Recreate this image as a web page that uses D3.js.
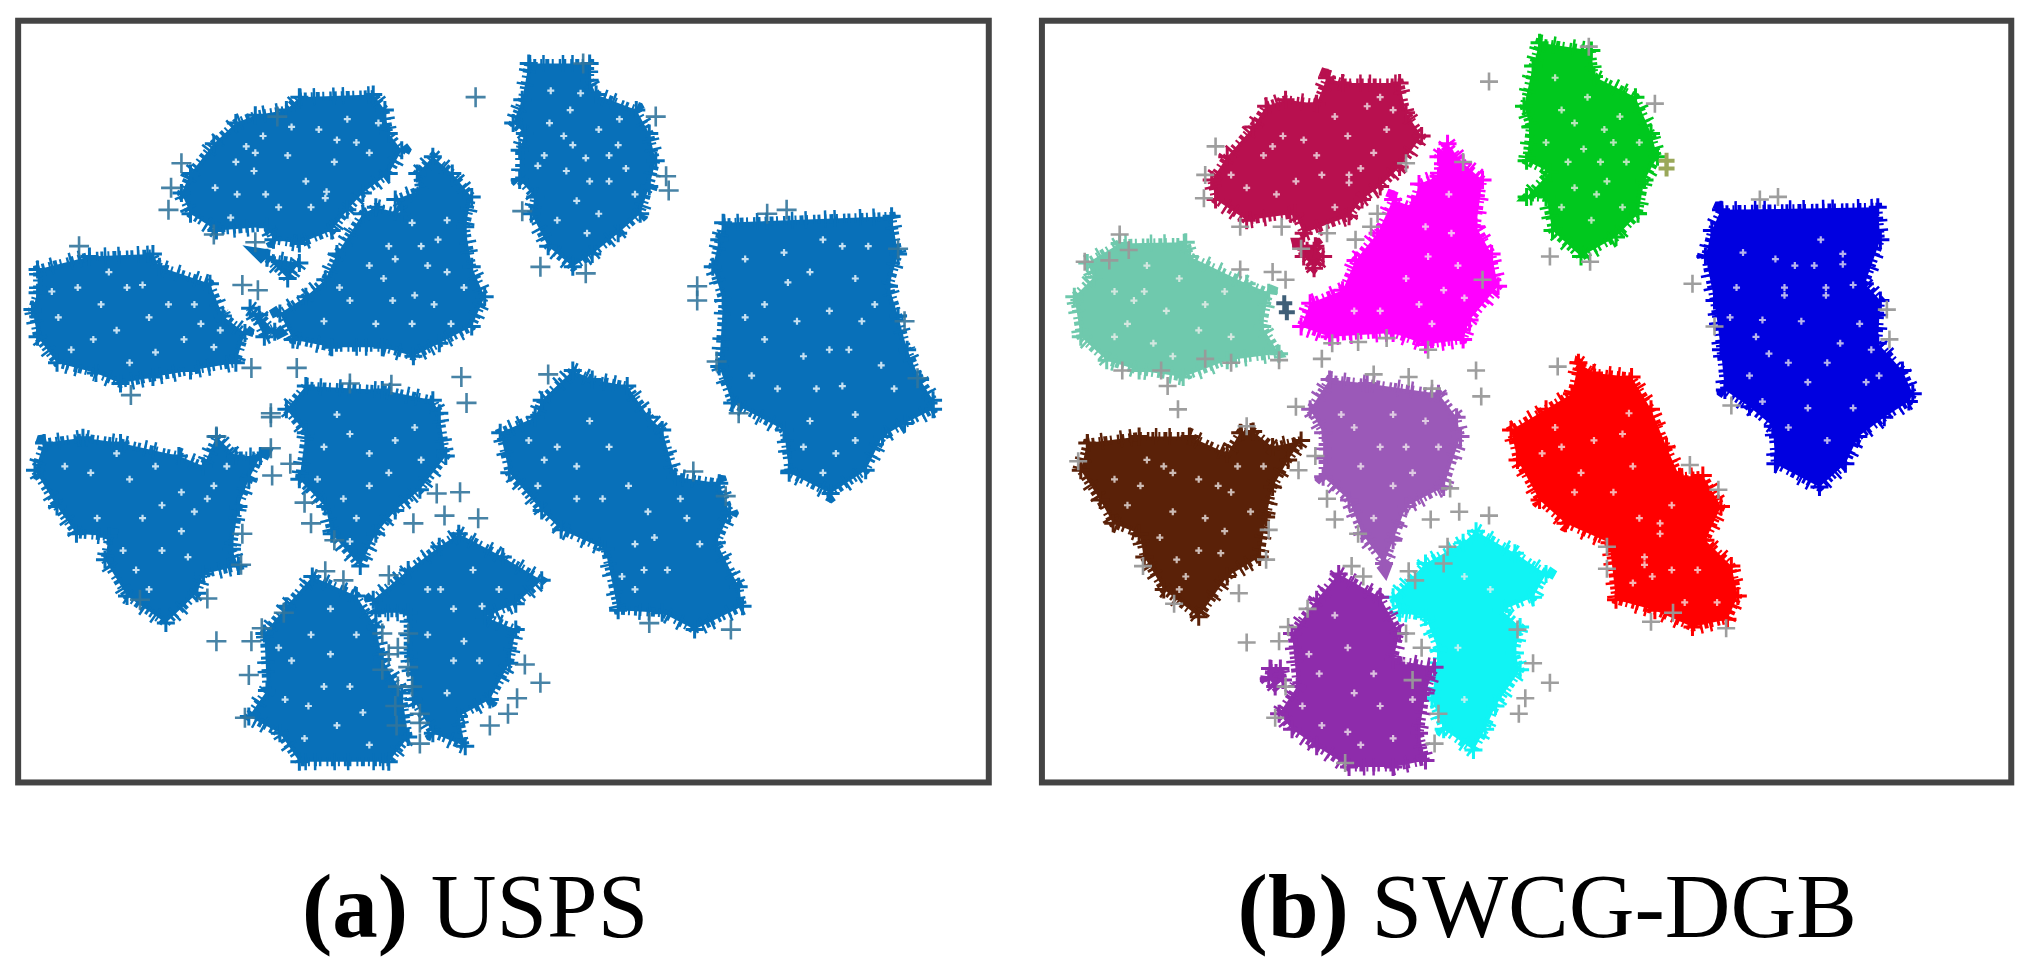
<!DOCTYPE html>
<html><head><meta charset="utf-8">
<script src="https://d3js.org/d3.v7.min.js"></script>
<style>html,body{margin:0;padding:0;background:#fff;overflow:hidden}svg{display:block}</style>
</head><body><svg id="c" width="2032" height="969"></svg>
<script>
const captionA = ["(a)", " USPS"];
const captionB = ["(b)", " SWCG-DGB"];

const panelFrames = [[14,16,763,604],[804,16,1552,604]];

const colorA = "#0870b9";
const colorsB = ["#00c81e","#b8104f","#ff00ff","#6fc9ad","#0000e0","#5a2108","#9b59b8","#ff0000","#10f4f4","#8e2cab"];

const clustersA = [
 [[408,49],[455,49],[455,62],[460,73],[491,85],[501,103],[506,124],[501,144],[494,165],[477,180],[457,196],[442,206],[423,190],[410,165],[413,152],[401,139],[401,116],[405,103],[396,95],[403,77]],
 [[231,75],[288,73],[297,85],[300,103],[310,116],[300,134],[280,149],[268,162],[256,178],[231,188],[211,185],[206,175],[167,178],[147,165],[140,149],[147,134],[165,111],[182,95],[197,89],[221,85]],
 [[334,121],[349,134],[364,152],[359,175],[364,206],[374,229],[364,252],[339,265],[319,275],[295,268],[256,268],[226,262],[216,242],[236,229],[251,216],[260,196],[280,165],[290,160],[310,165],[305,154],[324,147],[322,134]],
 [[29,208],[69,198],[118,196],[123,206],[162,219],[172,244],[189,257],[182,280],[147,286],[118,291],[93,296],[74,288],[44,280],[29,260],[25,239],[29,226]],
 [[558,172],[688,167],[693,196],[686,221],[693,244],[700,270],[710,293],[720,309],[720,316],[698,327],[681,337],[668,363],[641,381],[609,365],[605,332],[565,311],[555,283],[558,232],[550,206],[555,185]],
 [[34,342],[64,338],[93,342],[138,352],[157,360],[167,337],[182,352],[201,352],[192,370],[184,391],[179,424],[184,437],[157,443],[152,458],[128,481],[98,460],[81,432],[84,414],[59,412],[44,391],[27,363]],
 [[236,298],[295,301],[334,309],[339,319],[344,352],[324,378],[305,394],[290,412],[278,437],[256,412],[251,391],[231,370],[236,334],[221,316]],
 [[442,286],[457,293],[484,298],[501,322],[511,332],[521,368],[555,373],[563,396],[553,419],[570,453],[573,468],[536,486],[511,473],[477,471],[467,424],[433,409],[418,394],[393,365],[386,334],[413,322],[418,309]],
 [[354,412],[388,430],[418,448],[398,466],[374,476],[398,486],[393,512],[378,540],[354,553],[359,576],[334,566],[319,540],[315,504],[315,473],[290,473],[288,463],[315,440],[339,422]],
 [[241,445],[275,460],[290,484],[295,509],[310,535],[315,569],[300,588],[231,588],[216,566],[192,553],[206,533],[204,489],[221,468]],
 [[206,199],[231,203],[222,215]],
 [[193,238],[200,243],[212,256],[204,260]]
];

const clustersB = [
 [[1188,33],[1228,39],[1230,59],[1262,75],[1274,103],[1279,121],[1269,139],[1264,165],[1247,183],[1220,198],[1198,178],[1193,152],[1178,152],[1196,133],[1178,124],[1181,98],[1176,82],[1183,51]],
 [[1024,60],[1036,64],[1080,64],[1085,87],[1097,105],[1080,129],[1065,144],[1051,154],[1041,167],[1006,180],[999,165],[962,170],[938,154],[935,139],[947,121],[967,98],[977,82],[992,77],[1016,80]],
 [[1117,111],[1129,126],[1144,139],[1139,175],[1151,196],[1156,221],[1134,247],[1129,262],[1100,266],[1075,257],[1026,260],[1004,252],[1011,234],[1036,224],[1046,201],[1063,180],[1075,154],[1090,160],[1095,142],[1110,136],[1110,121]],
 [[839,203],[864,188],[915,187],[918,198],[962,219],[979,226],[974,252],[987,273],[947,278],[913,291],[879,286],[854,278],[834,260],[829,229],[844,214]],
 [[1328,162],[1449,160],[1451,185],[1439,219],[1451,232],[1449,265],[1468,286],[1476,304],[1473,310],[1454,322],[1434,337],[1424,358],[1404,376],[1370,358],[1368,329],[1350,314],[1331,301],[1328,270],[1323,232],[1316,198],[1321,178]],
 [[839,342],[879,337],[918,337],[947,350],[957,334],[967,333],[982,345],[1004,340],[994,355],[982,376],[977,399],[972,430],[947,445],[925,476],[898,455],[883,430],[879,412],[859,404],[849,386],[834,363]],
 [[1026,293],[1055,296],[1110,304],[1124,322],[1127,337],[1114,376],[1085,391],[1075,417],[1068,435],[1051,412],[1041,386],[1021,368],[1021,334],[1011,316]],
 [[1218,280],[1230,288],[1259,291],[1274,316],[1286,345],[1296,368],[1314,367],[1328,391],[1316,417],[1336,437],[1341,460],[1333,478],[1306,484],[1277,471],[1247,463],[1242,419],[1208,404],[1188,386],[1171,355],[1166,332],[1193,316],[1213,304]],
 [[1139,410],[1169,427],[1193,443],[1183,461],[1159,471],[1173,484],[1169,504],[1173,517],[1154,545],[1146,563],[1137,579],[1114,563],[1105,540],[1110,502],[1100,476],[1080,473],[1075,461],[1100,435],[1129,419]],
 [[1033,443],[1065,461],[1080,489],[1075,509],[1107,515],[1100,535],[1095,566],[1100,587],[1075,592],[1041,592],[1016,576],[997,563],[987,551],[1001,530],[997,489],[1016,463]]
];
const smallBlobsB = [
 {c:1,pts:[[1004,190],[1015,190],[1021,198],[1014,207],[1006,198]]},
 {c:9,pts:[[980,516],[988,516],[990,525],[984,530],[979,524]]}
];
const tintedPointsB = [[1286,124,"#9aa85a"],[1286,130,"#9aa85a"],[991,234,"#3f5f78"],[993,241,"#3f5f78"]];

const strayA = [[367,75],[450,49],[506,90],[403,163],[417,206],[452,211],[514,136],[516,147],[140,126],[132,145],[130,162],[165,181],[197,187],[214,90],[607,162],[592,165],[538,221],[538,232],[693,192],[698,248],[553,279],[708,292],[61,190],[187,220],[199,224],[194,284],[229,284],[101,305],[356,291],[360,311],[302,297],[423,289],[270,296],[209,319],[570,319],[209,322],[209,346],[224,358],[210,367],[235,388],[240,404],[258,417],[319,404],[343,398],[369,400],[337,381],[355,380],[167,337],[187,412],[186,436],[160,462],[108,463],[535,364],[560,383],[564,486],[501,481],[251,441],[265,448],[300,444],[167,495],[194,495],[202,485],[219,473],[192,521],[405,513],[417,527],[399,539],[392,551],[378,560],[189,554],[324,574],[307,500],[315,515],[295,517],[324,551],[307,530],[324,558],[315,489],[295,489],[305,545],[300,505],[318,530],[306,560]];

const strayB = [[1149,63],[1226,36],[1372,152],[1358,154],[1306,219],[1277,80],[1456,239],[1458,262],[1323,252],[1196,198],[1227,202],[938,113],[930,135],[929,153],[957,175],[989,175],[1024,180],[1046,185],[1063,165],[1058,175],[1004,192],[1085,126],[1129,125],[1144,216],[864,181],[871,193],[856,201],[837,202],[957,208],[982,210],[992,216],[1028,265],[1048,264],[1070,261],[1102,270],[987,278],[950,280],[930,277],[896,286],[866,286],[1020,277],[901,298],[909,316],[1139,286],[1143,306],[1202,283],[1087,291],[1105,300],[1060,289],[1000,314],[1336,313],[962,329],[832,356],[1015,352],[1002,363],[1024,385],[1030,401],[1104,401],[1126,395],[1149,398],[1119,377],[1048,412],[977,432],[979,409],[882,437],[956,458],[906,466],[1043,437],[1052,445],[1087,441],[1092,448],[1117,422],[1114,435],[1304,359],[1326,378],[1274,480],[1332,485],[1291,473],[1240,422],[1240,439],[962,496],[987,495],[994,484],[1009,470],[1097,500],[1183,512],[1196,527],[1177,539],[1172,551],[1171,486],[984,554],[1107,574],[1038,589],[992,530],[1085,489],[1090,525],[1110,551]];

const specksA = [[251,153],[252,148],[270,170],[190,113],[197,118],[182,125],[246,100],[268,92],[275,110],[222,120],[205,150],[183,150],[215,160],[258,125],[285,118],[166,145],[203,105],[236,140],[292,95],[178,168],[196,132],[240,160],[260,108],[225,98],
[425,70],[440,85],[435,105],[462,100],[477,112],[452,122],[437,132],[470,140],[483,130],[445,155],[430,170],[462,165],[420,120],[448,72],[424,95],[455,140],[478,92],[442,112],[415,128],[490,150],[470,120],[453,180],
[300,190],[318,172],[330,205],[296,215],[270,232],[320,228],[345,210],[318,250],[290,250],[250,248],[335,235],[305,200],[338,185],[345,170],[285,205],[358,222],[325,190],[262,222],[303,232],[348,250],
[60,222],[78,235],[90,255],[115,245],[142,262],[155,250],[98,222],[72,262],[120,272],[165,268],[45,245],[84,210],[110,220],[150,235],[55,270],[130,235],[100,280],[40,225],[170,255],
[608,218],[635,185],[650,190],[660,215],[615,248],[640,240],[665,248],[590,235],[620,275],[590,262],[655,270],[680,282],[630,300],[660,320],[600,300],[580,290],[645,350],[620,345],[575,200],[625,210],[670,190],[650,298],[690,300],[625,325],[575,245],[605,195],[640,270],[675,235],[660,340],[635,365],
[70,365],[100,370],[120,360],[140,380],[150,395],[75,400],[110,400],[125,425],[140,410],[105,440],[160,385],[50,360],[90,350],[165,375],[125,390],[115,455],[145,430],[175,360],[95,425],
[270,335],[285,350],[305,340],[250,345],[265,385],[285,375],[275,400],[320,330],[300,365],[325,355],[260,320],[245,370],[270,418],
[430,345],[445,360],[420,355],[470,345],[485,375],[465,385],[500,395],[497,440],[490,455],[505,415],[515,440],[445,385],[408,340],[455,325],[490,420],[530,400],[480,445],[415,375],[525,385],[540,420],
[340,455],[365,440],[350,470],[330,490],[350,510],[345,535],[372,468],[385,455],[358,495],[330,455],[370,510],
[240,490],[255,505],[270,530],[225,510],[238,545],[260,560],[280,550],[285,575],[220,540],[215,500],[255,470],[235,570],[275,490],[250,530]];

const specksB = [[1041,141],[1041,135],[982,113],[990,105],[975,120],[1030,90],[1055,82],[1070,100],[1060,118],[1020,135],[1000,140],[1030,160],[985,150],[1050,130],[962,145],[1075,85],[1006,108],[1040,105],[1016,120],[950,135],[1065,75],
[1225,75],[1238,100],[1222,115],[1245,110],[1250,90],[1210,125],[1232,150],[1240,140],[1215,95],[1205,85],[1255,125],[1228,170],[1252,160],[1200,60],[1193,110],[1265,110],[1215,145],[1235,125],[1205,160],
[1377,228],[1377,222],[1409,228],[1409,222],[1390,248],[1360,247],[1422,196],[1422,204],[1444,270],[1365,273],[1345,195],[1370,200],[1405,185],[1340,222],[1430,220],[1420,265],[1395,295],[1350,290],[1440,295],[1380,330],[1410,340],[1395,315],[1430,315],[1355,260],[1435,250],[1385,205],[1335,245],[1410,280],[1380,280],[1400,205],[1360,310],[1450,290],
[883,225],[870,250],[900,240],[925,255],[945,225],[860,225],[890,265],[910,215],[950,260],[885,205],[875,232],[930,235],[905,275],[860,260],
[1114,224],[1102,198],[1095,235],[1120,180],[1085,215],[1065,240],[1125,205],[1105,250],[1118,150],[1100,175],[1130,230],[1045,240],
[1257,319],[1205,345],[1281,404],[1281,412],[1269,430],[1269,436],[1230,340],[1245,380],[1220,365],[1290,390],[1310,440],[1300,465],[1265,400],[1215,380],[1275,445],[1190,350],[1200,330],[1252,335],[1260,360],[1325,465],[1290,440],[1260,450],
[942,427],[898,360],[905,365],[908,432],[880,375],[925,370],[950,380],[905,395],[930,400],[940,375],[965,395],[915,445],[870,390],[860,370],[895,415],[925,425],[955,360],[885,355],[945,410],[910,455],[975,360],
[1065,345],[1085,345],[1050,360],[1100,325],[1075,375],[1045,330],[1110,345],[1060,400],[1035,320],[1090,365],[1075,320],
[1150,455],[1130,445],[1125,500],[1130,540],
[1040,500],[1060,520],[1020,560],[1040,565],[1065,545],[1085,510],[1090,540],[1050,575],[1018,520],[1030,475],[1005,545],[1075,570],[1045,535],[1010,505]];

const X = d3.scaleLinear().domain([0,1568]).range([0,2032]);
const Y = d3.scaleLinear().domain([0,748]).range([0,969]);
const svg = d3.select("#c");
const plus = "M-9,0H9M0,-9V9";
const line = d3.line().x(d=>X(d[0])).y(d=>Y(d[1])).curve(d3.curveLinearClosed);

function drawCluster(g, pts, color){
  const d = line(pts);
  g.append("path").attr("d",d).attr("fill",color);
  g.append("path").attr("d",d).attr("fill","none").attr("stroke",color).attr("stroke-width",9).attr("stroke-dasharray","2.5 2 3 4 2 3 4 2.5 2 5");
  g.append("path").attr("d",d).attr("fill","none").attr("stroke",color).attr("stroke-width",17).attr("stroke-dasharray","2.5 11 2.5 17 2.5 7 2.5 23");
  g.selectAll(null).data(pts).join("path").attr("d",plus)
    .attr("transform",d=>`translate(${X(d[0])},${Y(d[1])})`)
    .attr("fill","none").attr("stroke",color).attr("stroke-width",3);
}
function drawMarks(g, pts, color, width, opacity, arm){
  const p = `M-${arm},0H${arm}M0,-${arm}V${arm}`;
  g.selectAll(null).data(pts).join("path").attr("d",p)
    .attr("transform",d=>`translate(${X(d[0])},${Y(d[1])})`)
    .attr("fill","none").attr("stroke",color).attr("stroke-width",width).attr("opacity",opacity);
}

// Panel (a)
const ga = svg.append("g");
clustersA.forEach(c=>drawCluster(ga,c,colorA));
drawMarks(ga,strayA,"#33759c",2.6,.9,10);
drawMarks(ga,specksA,"#e8f4fb",2.2,.85,3.5);

// Panel (b)
const gb = svg.append("g");
clustersB.forEach((c,i)=>drawCluster(gb,c,colorsB[i]));
smallBlobsB.forEach(b=>drawCluster(gb,b.pts,colorsB[b.c]));
drawMarks(gb,strayB,"#999999",2.6,.95,9);
drawMarks(gb,specksB,"#f4f0f0",2.2,.75,3.5);
tintedPointsB.forEach(t=>drawMarks(gb,[t],t[2],4,1,8));

// Frames
svg.selectAll("rect.frame").data(panelFrames).join("rect").attr("class","frame")
  .attr("x",d=>X(d[0])).attr("y",d=>Y(d[1]))
  .attr("width",d=>X(d[2])-X(d[0])).attr("height",d=>Y(d[3])-Y(d[1]))
  .attr("fill","none").attr("stroke","#444444").attr("stroke-width",6);

// Captions
[[captionA,233],[captionB,955]].forEach(([cap,x])=>{
  const t = svg.append("text").attr("x",X(x)).attr("y",Y(723))
    .attr("font-family","'Liberation Serif','Times New Roman',serif").attr("font-size",91).attr("fill","#000");
  t.append("tspan").attr("font-weight","bold").text(cap[0]);
  t.append("tspan").style("white-space","pre").text(cap[1]);
});
</script></body></html>
